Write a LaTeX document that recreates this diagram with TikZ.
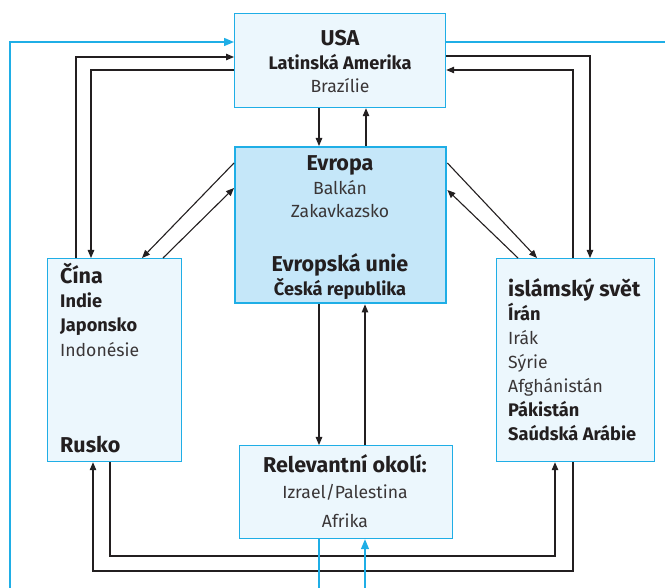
\documentclass[tikz,border=0pt]{standalone}
\usepackage{fontspec}
\setmainfont{Fira Sans}
\usetikzlibrary{arrows.meta}
\definecolor{cyanline}{HTML}{1FAEE6}
\definecolor{boxfill}{HTML}{ECF7FD}
\definecolor{eufill}{HTML}{C5E7F9}
\definecolor{ink}{HTML}{231F20}
\definecolor{inkl}{HTML}{3A3637}
\begin{document}
\begin{tikzpicture}[x=1pt,y=-1pt,
 box/.style={draw=cyanline, line width=1.2pt, fill=boxfill, anchor=north west, inner sep=0pt},
 eubox/.style={box, fill=eufill, line width=2.4pt},
 conn/.style={draw=ink, line width=1.1pt, -{Triangle[length=8pt,width=6.5pt]}},
 plainline/.style={draw=ink, line width=1.1pt},
 bline/.style={draw=cyanline, line width=1.4pt},
 bconn/.style={bline, -{Triangle[length=10pt,width=8pt]}},
 ttl/.style={font=\fontsize{21.5}{22}\selectfont\bfseries, text=ink, anchor=base, inner sep=0pt},
 sub/.style={font=\fontsize{18.2}{19}\selectfont\bfseries, text=ink, anchor=base, inner sep=0pt},
 txt/.style={font=\fontsize{17.6}{19}\selectfont, text=inkl, anchor=base, inner sep=0pt},
 lft/.style={anchor=base west}]
\useasboundingbox (0,0) rectangle (665,588);
% boxes
\node[box, minimum width=211pt, minimum height=94pt] (usa) at (234,13) {};
\node[eubox, minimum width=211pt, minimum height=156pt] (evropa) at (234,146) {};
\node[box, minimum width=134pt, minimum height=203pt] (cina) at (47,258) {};
\node[box, minimum width=158pt, minimum height=203pt] (isl) at (496,258) {};
\node[box, minimum width=213pt, minimum height=93pt] (rel) at (239,445) {};
% free ends
\coordinate (bl) at (10,588);
\coordinate (br) at (665,42);
\coordinate (bb1) at (319,588);
\coordinate (bb2) at (365,588);
% texts
\node[ttl] (t1) at (340,46) {USA};
\node[sub] (t2) at (340,70) {Latinská Amerika};
\node[txt] (t3) at (340,93) {Brazílie};
\node[ttl] (e1) at (340,171) {Evropa};
\node[txt] (e2) at (340,195) {Balkán};
\node[txt] (e3) at (340,218) {Zakavkazsko};
\node[ttl] (e4) at (340,272) {Evropská unie};
\node[sub] (e5) at (340,296) {Česká republika};
\node[ttl,lft] (c1) at (60,284) {Čína};
\node[sub,lft] (c2) at (60,308) {Indie};
\node[sub,lft] (c3) at (60,332) {Japonsko};
\node[txt,lft] (c4) at (60,357) {Indonésie};
\node[ttl,lft] (c5) at (60,453) {Rusko};
\node[ttl,lft] (i1) at (508,297) {islámský svět};
\node[sub,lft] (i2) at (508,321) {Írán};
\node[txt,lft] (i3) at (508,345) {Irák};
\node[txt,lft] (i4) at (508,369) {Sýrie};
\node[txt,lft] (i5) at (508,393) {Afghánistán};
\node[sub,lft] (i6) at (508,417) {Pákistán};
\node[sub,lft] (i7) at (508,441) {Saúdská Arábie};
\node[ttl] (r1) at (345,473) {Relevantní okolí:};
\node[txt] (r2) at (345,498) {Izrael/Palestina};
\node[txt] (r3) at (345,527) {Afrika};
% connectors
\draw[bconn] (bl) |- (usa.west |- 0,42);
\draw[bline] (usa.east |- 0,42) -- (br);
\draw[conn] (cina.north -| 76,0) |- (usa.west |- 0,57);
\draw[conn] (usa.west |- 0,70) -| (cina.north -| 91,0);
\draw[conn] (usa.east |- 0,56) -| (isl.north -| 590,0);
\draw[conn] (isl.north -| 573,0) |- (usa.east |- 0,70);
\draw[conn] (usa.south -| 319,0) -- (evropa.north -| 319,0);
\draw[conn] (evropa.north -| 366,0) -- (usa.south -| 366,0);
\draw[conn] (evropa.west |- 0,163) -- (cina.north -| 142,0);
\draw[conn] (cina.north -| 163,0) -- (evropa.west |- 0,188);
\draw[conn] (evropa.east |- 0,163) -- (isl.north -| 537,0);
\draw[conn] (isl.north -| 518,0) -- (evropa.east |- 0,190);
\draw[conn] (evropa.south -| 319,0) -- (rel.north -| 319,0);
\draw[conn] (rel.north -| 365,0) -- (evropa.south -| 365,0);
\draw[conn] (cina.south -| 110,0) -- (110,556) -| (isl.south -| 555,0);
\draw[conn] (isl.south -| 573,0) -- (573,571) -| (cina.south -| 93,0);
\draw[bline] (rel.south -| 319,0) -- (bb1);
\draw[bconn] (bb2) -- (rel.south -| 365,0);
\end{tikzpicture}
\end{document}
